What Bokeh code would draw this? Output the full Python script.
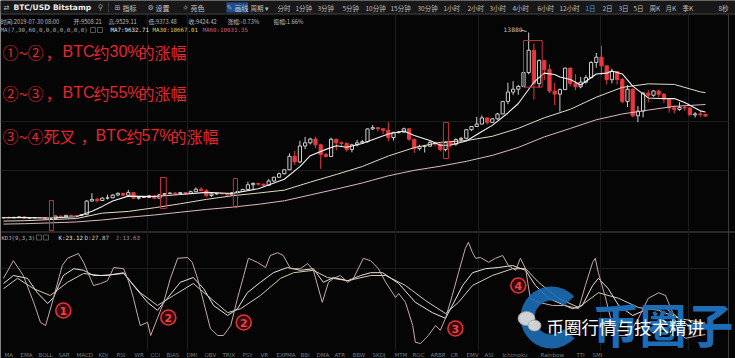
from bokeh.plotting import figure
from bokeh.models import Range1d
from bokeh.core.properties import value
from bokeh.embed import file_html
from bokeh.resources import INLINE

# ---------------- data (BTC/USD Bitstamp, daily) ----------------
opens = [
    3990, 3990, 3985, 4010, 4035, 3970, 3985, 3995, 3990, 3905,
    3935, 4080, 4045, 4115, 4110, 4105, 4150, 4880, 4970, 4910,
    5040, 5050, 5200, 5290, 5190, 5330, 5030, 5070, 5070, 5160,
    5030, 5220, 5280, 5310, 5280, 5330, 5290, 5380, 5510, 5430,
    5180, 5260, 5280, 5270, 5210, 5330, 5390, 5500, 5750, 5820,
    5780, 5720, 5950, 6150, 6340, 6550, 7270, 6970, 7820, 7990,
    8190, 7880, 7360, 7260, 8180, 7990, 7950, 7630, 7880, 7990,
    8050, 8730, 8800, 8740, 8660, 8270, 8550, 8560, 8740, 8180,
    7680, 7790, 7810, 8000, 7930, 7630, 8010, 7920, 8170, 8230,
    8690, 8860, 8990, 9320, 9080, 9270, 9530, 10200, 10700, 10850,
    11000, 11740, 12930, 11160, 12380, 11900, 10750, 10590, 10830, 11980,
    11150, 10980, 11230, 11470, 12280, 12560, 12100, 11360, 11800, 11370,
    10200, 10850, 9430, 9680, 10640, 10530, 10760, 10580, 10320, 9860,
    9770, 9880, 9850, 9480, 9530, 9508]
highs = [
    4010, 4060, 4030, 4050, 4060, 4000, 4010, 4000, 4000, 3950,
    4090, 4080, 4130, 4140, 4120, 4170, 4930, 5300, 5060, 5070,
    5220, 5250, 5340, 5300, 5470, 5350, 5100, 5110, 5180, 5190,
    5240, 5300, 5330, 5350, 5340, 5350, 5440, 5610, 5630, 5520,
    5340, 5310, 5310, 5290, 5360, 5420, 5530, 5910, 5870, 5860,
    5800, 6050, 6180, 6400, 6580, 7420, 7560, 8100, 8300, 8260,
    8320, 7940, 7450, 8260, 8200, 8060, 8010, 7940, 8150, 8140,
    8760, 8940, 8800, 8750, 9090, 8570, 8620, 8800, 8760, 8180,
    7890, 7880, 8100, 8060, 7950, 8060, 8020, 8220, 8300, 8700,
    8880, 9370, 9450, 9340, 9300, 9590, 10200, 11200, 11280, 11080,
    11790, 13880, 13300, 12450, 12380, 12180, 11200, 10890, 12000, 12000,
    11650, 11500, 11600, 12350, 12790, 13180, 12100, 11950, 11830, 11450,
    11080, 10900, 9950, 10700, 10800, 10800, 10830, 10650, 10350, 10000,
    10160, 10000, 9880, 9630, 9700, 9529]
lows = [
    3950, 3960, 3970, 3990, 3940, 3960, 3980, 3960, 3880, 3900,
    3930, 4030, 4040, 4070, 4090, 4085, 4140, 4850, 4800, 4900,
    4960, 5050, 5140, 5150, 5180, 4990, 4960, 5050, 5040, 5010,
    5030, 5210, 5270, 5230, 5260, 5220, 5270, 5370, 5410, 5080,
    5100, 5220, 5240, 5170, 5190, 5320, 5380, 5490, 5520, 5700,
    5640, 5710, 5900, 6140, 6300, 6550, 6800, 6900, 7650, 7900,
    7700, 6600, 7220, 7240, 7590, 7800, 7520, 7480, 7800, 7960,
    8000, 8670, 8600, 8450, 8070, 8110, 8480, 8540, 8100, 7450,
    7580, 7470, 7780, 7800, 7530, 7530, 7740, 7830, 8060, 8170,
    8620, 8860, 8990, 8960, 9050, 9230, 9530, 10050, 10550, 10550,
    10990, 11650, 10300, 10950, 11350, 10650, 10000, 9650, 10830, 11030,
    10800, 10900, 11150, 11440, 12000, 11600, 11100, 11160, 11100, 10100,
    9900, 9360, 9100, 9350, 10150, 10450, 10400, 10100, 9600, 9550,
    9700, 9700, 9460, 9340, 9370, 9373]
closes = [
    3990, 3985, 4010, 4035, 3970, 3985, 3995, 3990, 3905, 3935,
    4080, 4045, 4115, 4110, 4105, 4150, 4880, 4970, 4910, 5040,
    5050, 5200, 5290, 5190, 5330, 5030, 5070, 5070, 5160, 5030,
    5220, 5280, 5310, 5280, 5330, 5290, 5380, 5510, 5430, 5180,
    5260, 5280, 5270, 5210, 5330, 5390, 5500, 5750, 5820, 5780,
    5720, 5950, 6150, 6340, 6550, 7270, 6970, 7820, 7990, 8190,
    7880, 7360, 7260, 8180, 7990, 7950, 7630, 7880, 7990, 8050,
    8730, 8800, 8740, 8660, 8270, 8550, 8560, 8740, 8180, 7680,
    7790, 7810, 8000, 7930, 7630, 8010, 7920, 8170, 8230, 8690,
    8860, 8990, 9320, 9080, 9270, 9530, 10200, 10700, 10850, 11000,
    11740, 12930, 11160, 12380, 11900, 10750, 10590, 10830, 11980, 11150,
    10980, 11230, 11470, 12280, 12560, 12100, 11360, 11800, 11370, 10200,
    10850, 9430, 9680, 10640, 10530, 10760, 10580, 10320, 9860, 9770,
    9880, 9850, 9480, 9530, 9508, 9424]

# moving averages (day index, value)
ma7_idx = [0, 4, 9, 14, 17, 19, 21, 24, 29, 34, 39, 44, 49, 54, 57, 59, 62, 64, 66, 69,
           72, 74, 77, 79, 82, 84, 86, 89, 92, 94, 97, 99, 102, 104, 106, 107, 109, 111, 114, 116,
           117, 119, 121, 124, 126, 129, 131, 134, 135]
ma7 = [3990, 3996, 3974, 4042, 4339, 4595, 4886, 5144, 5126, 5230, 5343, 5280, 5540, 6044, 6721, 7304, 7639, 7836, 7750, 7953,
       8260, 8463, 8617, 8377, 8109, 7860, 7870, 8083, 8597, 8920, 9584, 10090, 11226, 11709, 11636, 11506, 11369, 11073, 11664, 11711,
       11829, 11667, 11016, 10386, 10353, 10351, 10146, 9697, 9635]
ma_idx = [0, 4, 9, 14, 19, 24, 29, 34, 39, 44, 49, 54, 59, 64, 69, 74, 79, 84, 89, 94,
          99, 104, 109, 114, 119, 124, 129, 134, 135]
ma30 = [3810, 3830, 3890, 3945, 4235, 4325, 4521, 4735, 4968, 5164, 5307, 5462, 5892, 6300, 6724, 7285, 7734, 8016, 8109, 8337,
        8763, 9327, 9780, 10425, 10952, 11139, 11106, 10711, 10666]
ma60 = [3650, 3670, 3713, 3764, 3870, 4014, 4135, 4284, 4431, 4554, 4704, 4894, 5206, 5518, 5846, 6225, 6521, 6739, 7000, 7319,
        7743, 8306, 8757, 9221, 9530, 9738, 9935, 10019, 10033]

# KDJ(9,3,3)
k_idx = [0, 1.9, 4.6, 6.5, 8.5, 9.6, 11.5, 13.5, 15.4, 17.3, 20, 23.1, 25, 27.7, 29.6, 31.5, 34, 36.5, 38.5, 40.4,
         43.1, 45, 46.9, 49.4, 51.9, 54.6, 57.1, 59.6, 61.5, 63.5, 66.2, 68.7, 70.6, 72.9, 76, 79.2, 82.5, 85, 86.3, 88.3,
         90.2, 92.7, 95.2, 97.9, 100.4, 102.3, 104.8, 109.4, 111.3, 113.3, 114.4, 116.3, 118.3, 121, 124, 126.7, 129.2, 131.7, 135]
k_val = [77.5, 87.5, 84, 66, 52.5, 60, 87.5, 96, 94, 87.5, 87.5, 91, 75, 54, 44, 59, 79, 85, 71, 50,
         37.5, 46, 66, 79, 91, 97.5, 94, 96, 79, 85, 81, 87.5, 91, 91, 77.5, 54, 41, 34, 50, 75,
         91, 96, 97.5, 100, 94, 75, 59, 46, 50, 75, 84, 71, 50, 37.5, 46, 50, 37.5, 25, 23.12]
d_idx = [0, 2.7, 5.8, 9, 12.3, 15.4, 18.7, 23.1, 26.3, 29.6, 32.7, 36.5, 39.2, 43.1, 45.6, 49.4, 53.3, 55.8, 59.6, 62.3,
         66.2, 70.6, 73.5, 77.3, 81.2, 85, 87.5, 90.2, 94, 97.9, 100.4, 102.9, 106.7, 110.6, 114.4, 118.3, 122.1, 126, 129.8, 135]
d_val = [71, 84, 71, 62.5, 79, 90, 87.5, 90, 66, 50, 62.5, 77.5, 62.5, 41, 46, 62.5, 84, 91, 94, 85,
         81, 87.5, 87.5, 75, 56, 40, 54, 75, 87.5, 96, 96, 79, 59, 47.5, 66, 59, 47.5, 44, 34, 27.87]
j_idx = [0, 1.9, 3.8, 5.8, 7.1, 8.1, 9.6, 11.3, 12.3, 14.4, 15.4, 16.7, 17.3, 18.7, 20, 21.2, 23.1, 24, 25, 25.8,
         26.3, 27.7, 28.3, 29.6, 30.8, 32.1, 33.5, 35.4, 36.3, 37.3, 38.5, 39.8, 41.2, 42.3, 43.7, 45, 46.2, 47.1, 48.8, 50.4,
         51.3, 52.7, 53.8, 55.2, 57.1, 58.5, 59.6, 61.3, 62.5, 63.5, 64.8, 66.2, 67.3, 69.2, 70.6, 72.1, 73.5, 75.4, 76, 77.3,
         78.7, 79.2, 80.2, 81.7, 83.1, 84, 85, 86.3, 87.5, 88.8, 89.4, 90.2, 90.8, 91.7, 93.3, 94.6, 96, 97.1, 98.5, 99.4,
         100.4, 101.3, 102.9, 105.6, 108, 110.6, 111.9, 113.3, 113.8, 114.4, 115.8, 117.1, 118.3, 120.2, 122.1, 124, 126, 127.3, 128.7, 129.8,
         131.2, 133.7, 135]
j_val = [84, 106, 87.5, 54, 29, 25, 59, 100, 109, 115, 104, 84, 75, 77.5, 81, 97.5, 96, 81, 59, 37.5,
         25, 29, 12.5, 34, 54, 84, 109, 110, 104, 84, 54, 21, 12.5, 12.5, 25, 59, 87.5, 109, 104, 97.5,
         112.5, 116, 112.5, 96, 96, 102.5, 94, 54, 79, 84, 87.5, 79, 84, 109, 106, 96, 79, 60, 65, 54,
         25, 4, 2.5, 12.5, 25, 19, 34, 62.5, 91, 121, 129, 116, 109, 110, 104, 109, 112.5, 100, 94, 109,
         96, 59, 54, 50, 50, 46, 75, 104, 109, 91, 59, 25, 12.5, 12.5, 34, 59, 66, 62.5, 41, 16,
         9, 12.5, 13.63]

# highlighted boxes (day index range, price range)
box_left = [8.85, 30.2, 44.2, 84.6, 100.0]
box_right = [9.6, 31.3, 45.0, 85.6, 103.6]
box_top = [4910, 6140, 6080, 9070, 13450]
box_bottom = [3300, 4480, 4530, 7150, 10960]

# circled markers in KDJ panel
mark_idx = [11.5, 31.7, 46.2, 86.9, 99.0]
mark_val = [43.75, 35, 28.75, 21.25, 75]
mark_txt = ["1", "2", "2", "3", "4"]

# red notes (split into CJK / Latin runs)
note_text = ["①~②", "，", "BTC", "约", "30%", "的涨幅",
             "②~③", "，", "BTC", "约", "55%", "的涨幅",
             "③~④死叉", "，", "BTC", "约", "57%", "的涨幅"]
note_latin = [False, False, True, False, True, False] * 3
note_x = [2, 45, 62, 93, 109, 138,
          2, 45, 62, 93, 109, 138,
          2, 80, 95, 126, 141, 170]
note_y = [51] * 6 + [92] * 6 + [135] * 6

# ---------------- figure ----------------
W, H = 735, 358
CJK = value("Noto Sans CJK SC")
MONO = value("DejaVu Sans Mono")
p = figure(width=W, height=H, output_backend="svg", toolbar_location=None,
           x_axis_location=None, y_axis_location=None, min_border=0,
           x_range=Range1d(-0.577, 140.77), y_range=Range1d(-3528, 15589))
p.background_fill_color = "#050505"
p.border_fill_color = "#050505"
p.outline_line_color = None
p.grid.visible = False
p.extra_x_ranges = {"px": Range1d(0, W)}
p.extra_y_ranges = {"px": Range1d(H, 0), "kdj": Range1d(-16.25, 431.25)}
PX = dict(x_range_name="px", y_range_name="px")

# frame pieces: toolbar, separators, grid
p.quad(left=[0], right=[W], top=[0], bottom=[13], fill_color="#181818", line_color=None, **PX)
p.segment(x0=[0, 0], y0=[13.5, 231.5], x1=[W, W], y1=[13.5, 231.5], line_color="#4a4a4a", line_width=1, **PX)
p.segment(x0=[728], y0=[14], x1=[728], y1=[H], line_color="#3a3a3a", line_width=1, **PX)
vg = [147, 187, 395, 478, 600, 688]
p.segment(x0=vg, y0=[14] * len(vg), x1=vg, y1=[350] * len(vg), line_color="#1d1d1d", line_width=1, **PX)
hg = [121, 170, 268]
p.segment(x0=[0] * len(hg), y0=hg, x1=[728] * len(hg), y1=hg, line_color="#1d1d1d", line_width=1, **PX)
p.segment(x0=[108, 247], y0=[2, 2], x1=[108, 247], y1=[12, 12], line_color="#3c3c3c", **PX)

# candles
idx = list(range(len(closes)))
up = [c >= o for o, c in zip(opens, closes)]
col = ["#cfcfcf" if u else "#e8383e" for u in up]
fill = ["#050505" if u else "#e8383e" for u in up]
p.segment(x0=idx, y0=lows, x1=idx, y1=highs, line_color=col, line_width=1)
p.vbar(x=idx, width=0.62, top=[max(o, c) for o, c in zip(opens, closes)],
       bottom=[min(o, c) for o, c in zip(opens, closes)], fill_color=fill, line_color=col, line_width=1)

# moving averages
p.line(ma_idx, ma60, line_color="#d9b9c2", line_width=1)
p.line(ma_idx, ma30, line_color="#e0dcc0", line_width=1)
p.line(ma7_idx, ma7, line_color="#f2f2f2", line_width=1.1)

# boxes
p.quad(left=box_left, right=box_right, top=box_top, bottom=box_bottom,
       fill_color=None, line_color="#c8323a", line_width=1)

# 13880 label
p.text(x=[503], y=[29], text=["13880"], text_color="#c0c0c0", text_font_size="6px",
       text_font=value("DejaVu Sans"), text_baseline="middle", **PX)
p.segment(x0=[520], y0=[29.5], x1=[526], y1=[31], line_color="#c0c0c0", line_width=1, **PX)

# KDJ lines
p.line(d_idx, d_val, y_range_name="kdj", line_color="#d6ccaa", line_width=1)
p.line(k_idx, k_val, y_range_name="kdj", line_color="#e4e4e4", line_width=1)
p.line(j_idx, j_val, y_range_name="kdj", line_color="#c9a9ad", line_width=1)

# circled markers
p.scatter(mark_idx, mark_val, y_range_name="kdj", size=15, marker="circle",
          fill_color="#5a0d12", fill_alpha=0.6, line_color="#e0343c", line_width=1.6)
p.text(mark_idx, mark_val, text=mark_txt, y_range_name="kdj", text_color="#e8444a",
       text_font_size="11px", text_font=value("DejaVu Sans"), text_font_style="bold",
       text_align="center", text_baseline="middle")

# red notes
for t, lat, x, y in zip(note_text, note_latin, note_x, note_y):
    p.text(x=[x], y=[y], text=[t], text_color="#e3262d", text_font_size="16px",
           text_font=value("Liberation Sans") if lat else CJK, text_baseline="middle", **PX)


# ---------------- header texts ----------------
def txt(xs, ys, ts, color, size, font=CJK, style="normal"):
    p.text(x=xs, y=ys, text=ts, text_color=color, text_font_size=size, text_font=font,
           text_font_style=style, text_baseline="middle", **PX)


txt([13], [7], ["BTC/USD Bitstamp"], "#f0f0f0", "7.5px", value("DejaVu Sans"), "bold")
txt([3], [7], ["⇄"], "#bbbbbb", "7px", value("DejaVu Sans"))
txt([97], [7], ["⚲"], "#9a9a9a", "8px", value("DejaVu Sans"))
p.quad(left=[226], right=[247], top=[2], bottom=[12], fill_color="#1f4f8f", line_color=None, **PX)
txt([114, 147, 182, 226], [7] * 4, ["⊞", "⚙", "☼", "✎"], "#b0b0b0", "7px", value("DejaVu Sans"))
txt([122, 155, 190, 234], [7] * 4, ["指标", "设置", "亮色", "画线"], "#c8c8c8", "7px")
tf = ["周期 ▾", "分时", "1分钟", "3分钟", "5分钟", "10分钟", "15分钟", "30分钟", "1小时", "2小时", "3小时",
      "4小时", "6小时", "12小时", "2日", "3日", "5日", "周K", "月K", "季K", "8秒"]
tfx = [250, 277, 295, 317, 342, 365, 390, 417, 443, 467, 489, 512, 537, 559, 602, 618, 633, 649, 665, 682, 718]
txt(tfx, [7] * len(tfx), tf, "#bdbdbd", "6.5px")
txt([585], [7], ["1日"], "#4a9cf0", "6.5px")

row2 = ["时间:2019-07-30 08:00", "开:9508.21", "高:9529.11", "低:9373.48", "收:9424.42", "涨幅:-0.73%", "振幅:1.66%"]
row2x = [0, 73, 108, 148, 188, 227, 273]
txt(row2x, [21] * len(row2x), row2, "#bcbcbc", "5.8px")
txt([0], [29.5], ["MA(7,30,60,0,0,0,0,0,0,0)"], "#a8a8a8", "5.8px", MONO)
p.quad(left=[90, 97], right=[95, 102], top=[27, 27], bottom=[32, 32], fill_color=None, line_color="#555555", **PX)
txt([110], [29.5], ["MA7:9632.71"], "#e6e6e6", "5.8px", MONO)
txt([152], [29.5], ["MA30:10667.01"], "#cfcf6a", "5.8px", MONO)
txt([202], [29.5], ["MA60:10031.35"], "#c8607e", "5.8px", MONO)

# KDJ header
txt([1], [237], ["KDJ(9,3,3)"], "#b8b8b8", "5.6px", MONO)
p.quad(left=[36, 43], right=[41, 48], top=[234.5, 234.5], bottom=[239.5, 239.5], fill_color=None, line_color="#555555", **PX)
txt([58], [237], ["K:23.12"], "#e6e6e6", "5.8px", MONO)
txt([84], [237], ["D:27.87"], "#d8d2a8", "5.8px", MONO)
txt([115], [237], ["J:13.63"], "#a89090", "5.8px", MONO)

# bottom indicator bar
bot = ["MA", "EMA", "BOLL", "SAR", "MACD", "KDJ", "RSI", "WR", "CCI", "BIAS", "DMI", "OBV", "TRIX", "PSY", "VR",
       "EXPMA", "BBI", "DMA", "ATR", "BBW", "SKDJ", "MTM", "ROC", "ARBR", "CR", "EMV", "ASI", "Ichimoku", "Rainbow", "TTI", "SMI"]
bx = [4, 20, 38, 58, 76, 98, 116, 134, 150, 166, 186, 204, 222, 242, 260, 276, 300, 316, 334, 352, 372, 394, 412, 430,
      450, 466, 484, 502, 540, 576, 592]
txt(bx, [354] * len(bx), bot, "#7c7c7c", "5.5px", value("DejaVu Sans"))

# ---------------- watermark ----------------
p.annular_wedge(x=[551], y=[317], inner_radius=17, outer_radius=31, start_angle=0.75, end_angle=5.55,
                fill_color="#1c6db5", fill_alpha=0.9, line_color=None, **PX)
txt([592], [322], ["币圈子"], "#1c6db5", "47px", CJK, "bold")
p.ellipse(x=[526, 534], y=[318, 325], width=[17, 13], height=[14, 11], fill_color="#d8d8d8",
          fill_alpha=0.95, line_color="#9a9a9a", line_width=0.8, **PX)
txt([546], [326], ["币圈行情与技术精讲"], "#ffffff", "17.5px", CJK)

open("out.html", "w").write(file_html(p, INLINE))
